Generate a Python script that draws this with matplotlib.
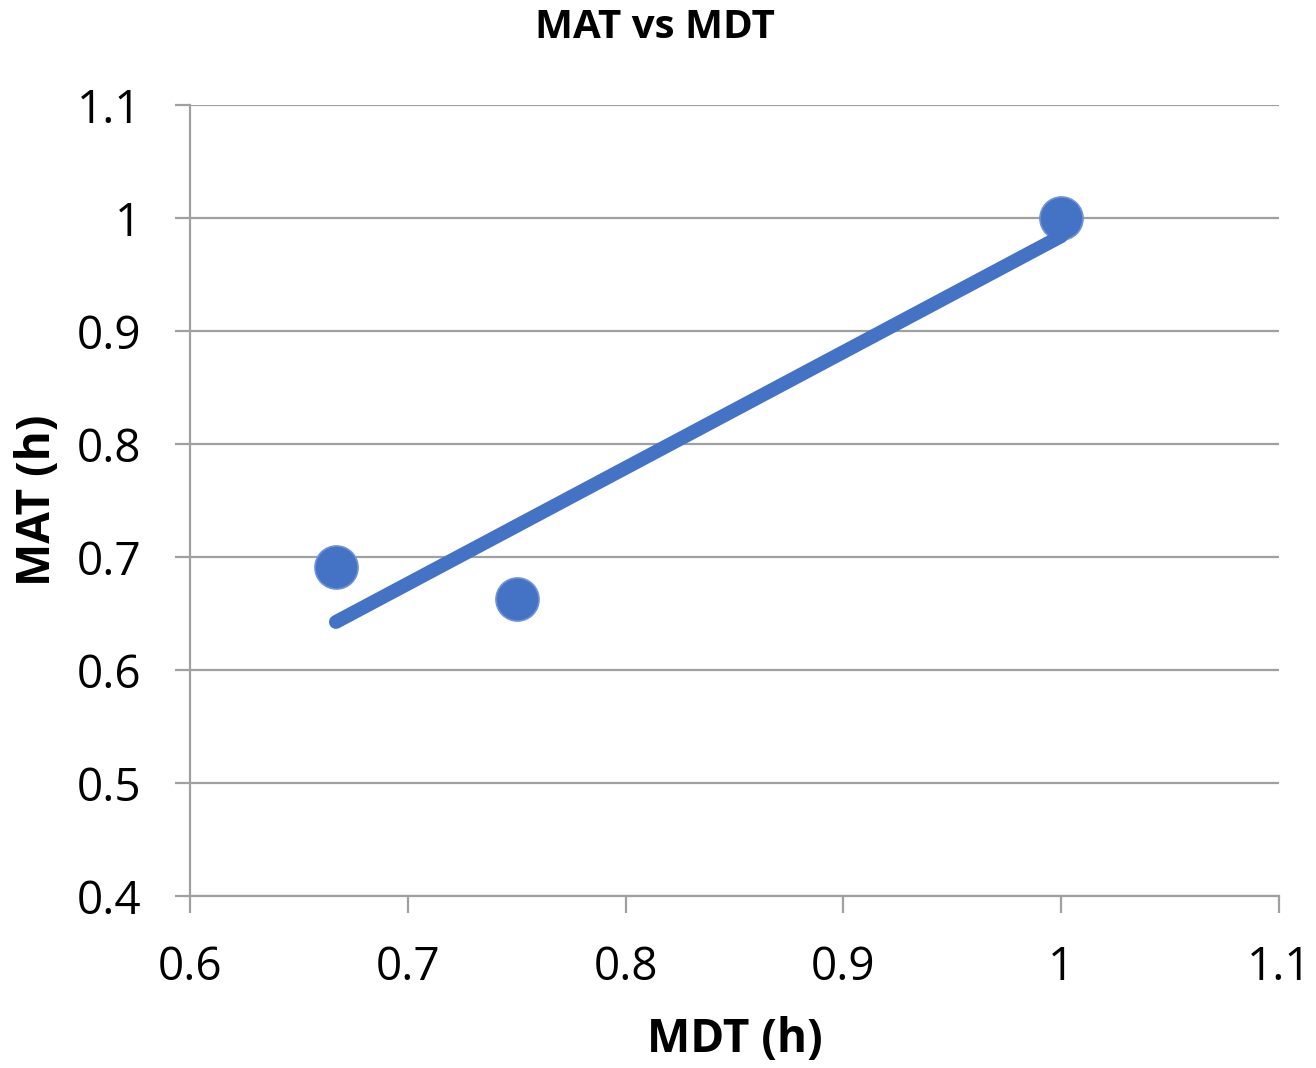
import numpy as np
import matplotlib
matplotlib.use("Agg")
import matplotlib.pyplot as plt

# Data
mdt = [0.667, 0.75, 1.0]
mat = [0.691, 0.663, 1.0]
x_ticks = [0.6, 0.7, 0.8, 0.9, 1.0, 1.1]
x_tick_labels = ["0.6", "0.7", "0.8", "0.9", "1", "1.1"]
y_ticks = [0.4, 0.5, 0.6, 0.7, 0.8, 0.9, 1.0, 1.1]
y_tick_labels = ["0.4", "0.5", "0.6", "0.7", "0.8", "0.9", "1", "1.1"]

plt.rcParams['font.family'] = ['Open Sans', 'DejaVu Sans']

W, H = 1316, 1068
fig = plt.figure(figsize=(W / 100, H / 100), dpi=100)
ax = fig.add_axes([190 / W, 172 / H, (1279 - 190) / W, (963 - 172) / H])

grid_col = '#A0A0A0'
blue = '#4472C4'

# Trendline (linear least squares)
slope, intercept = np.polyfit(mdt, mat, 1)
tx = np.array([min(mdt), max(mdt)])
ax.plot(tx, slope * tx + intercept, color=blue, lw=10, solid_capstyle='round', zorder=4)

ax.plot(mdt, mat, linestyle='none', marker='o', markersize=31,
        markerfacecolor=blue, markeredgecolor='#6E93D6', markeredgewidth=1.2, zorder=3)

ax.set_xlim(0.6, 1.1)
ax.set_ylim(0.4, 1.1)
ax.set_xticks(x_ticks)
ax.set_xticklabels(x_tick_labels)
ax.set_yticks(y_ticks)
ax.set_yticklabels(y_tick_labels)

ax.grid(axis='y', color=grid_col, lw=1.6, zorder=0)
ax.set_axisbelow(True)
for s in ['top', 'right']:
    ax.spines[s].set_visible(False)
for s in ['left', 'bottom']:
    ax.spines[s].set_color(grid_col)
    ax.spines[s].set_linewidth(1.6)

ax.tick_params(axis='x', direction='out', length=12, width=1.6, color=grid_col,
               labelsize=33, pad=23)
ax.tick_params(axis='y', direction='out', length=11, width=1.6, color=grid_col,
               labelsize=33, pad=24)

fig.text(735 / W, 1 - 1040 / H, 'MDT (h)', fontsize=33, fontweight='bold',
         ha='center', va='center')
fig.text(38 / W, 1 - 500 / H, 'MAT (h)', fontsize=33, fontweight='bold',
         ha='center', va='center', rotation=90)
fig.text(655 / W, 1 - 28 / H, 'MAT vs MDT', fontsize=29, fontweight='bold',
         ha='center', va='center')

fig.savefig('out.png', dpi=100)
